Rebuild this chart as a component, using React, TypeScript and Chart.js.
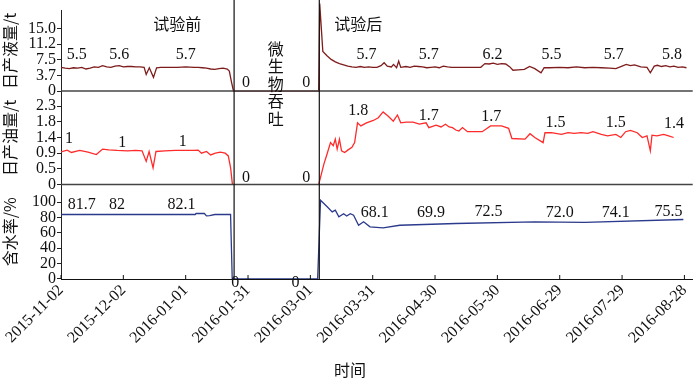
import React, { useEffect, useRef } from 'react';
import { Chart, registerables } from 'chart.js';
Chart.register(...registerables);

const SERIF = "'Liberation Serif', 'Noto Sans CJK SC', serif";
const CJK = "'Noto Sans CJK SC', 'Liberation Serif', sans-serif";

// x axis: days since 2015-11-02
const tickDays = [0, 30, 60, 90, 120, 150, 180, 210, 240, 270, 300];
const dateLabels = ['2015-11-02', '2015-12-02', '2016-01-01', '2016-01-31', '2016-03-01', '2016-03-31', '2016-04-30', '2016-05-30', '2016-06-29', '2016-07-29', '2016-08-28'];
const dividerDays = [83.3, 124.3];

// 日产液量/t
const liquidDays = [0, 2, 4, 6, 8, 10, 12, 14, 16, 18, 20, 22, 24, 26, 28, 30, 32, 34, 36, 38, 40, 41, 42.5, 44.5, 46, 48, 52, 56, 60, 64, 66, 68, 70, 72, 74, 76, 78, 80, 81, 82, 83, 124, 124.5, 126, 128, 130, 132, 134, 136, 138, 140, 142, 144, 146, 148, 150, 152, 154, 155.5, 157, 159, 160, 161.5, 162.5, 163.5, 166, 168, 170, 172, 174, 176, 178, 180, 182, 184, 186, 188, 190, 196, 202, 204, 206, 208, 210, 212, 214, 216, 217.5, 220, 223, 225.5, 228, 231, 232.5, 235, 240, 244, 248, 252, 256, 260, 264, 267, 270, 272, 274, 276, 279, 282, 283.6, 285.5, 287, 289, 291, 293, 295, 297, 299, 301];
const liquidValues = [5.7, 5.5, 5.4, 5.6, 5.5, 5.7, 5.3, 5.5, 5.8, 5.7, 6.1, 5.8, 5.7, 6.0, 6.1, 5.8, 5.9, 5.9, 5.8, 5.8, 5.7, 4.0, 5.6, 3.3, 5.6, 5.7, 5.7, 5.7, 5.8, 5.7, 5.7, 5.6, 5.5, 5.3, 5.2, 5.4, 5.5, 5.3, 4.8, 2.3, 0, 0, 21, 9.5, 8.5, 7.6, 7.0, 6.6, 6.3, 6.0, 5.8, 5.7, 5.9, 5.7, 5.8, 5.7, 5.7, 6.1, 6.8, 6.0, 5.8, 6.4, 5.6, 7.2, 5.7, 5.9, 5.7, 6.0, 5.9, 5.8, 5.6, 5.7, 5.8, 5.6, 6.0, 5.8, 5.7, 5.7, 5.7, 5.7, 6.6, 6.5, 6.7, 6.4, 6.6, 6.5, 5.8, 5.0, 5.1, 5.2, 5.9, 5.4, 4.4, 5.6, 5.6, 5.7, 5.6, 5.8, 5.6, 5.7, 5.6, 5.5, 5.4, 6.0, 6.4, 6.1, 6.3, 5.8, 5.7, 4.4, 6.0, 6.2, 5.9, 6.1, 5.8, 6.0, 5.7, 5.8, 5.6];

// 日产油量/t
const oilDays = [0, 3, 5, 9, 13, 17, 20, 23, 27, 32, 36, 39, 41, 42.4, 44.3, 45.7, 50, 55, 60, 64, 66, 67.6, 70, 72, 74.3, 76.7, 79, 80.5, 81.6, 82.5, 124, 126.5, 128, 129.7, 131, 132, 132.9, 134, 135, 136.5, 138, 140, 141.3, 142.7, 144.3, 147, 150.3, 152.7, 155, 157.5, 159.9, 161.9, 163.5, 166.2, 169.4, 172.5, 175.7, 177, 180.5, 182.9, 185, 186.8, 188.4, 190, 191.5, 193.2, 195.6, 202.7, 206.7, 212, 215.4, 217, 223.3, 225.7, 228, 232, 232.9, 236, 240.8, 244, 247, 250.3, 253.5, 256, 260, 263, 267, 269.4, 271.7, 274, 277.3, 279.7, 282, 283.6, 284.4, 286.8, 290, 292.4, 294.8];
const oilValues = [0.96, 1.01, 0.94, 1.0, 0.95, 0.88, 1.04, 1.02, 1.0, 0.99, 1.0, 0.99, 0.68, 0.97, 0.49, 0.97, 0.99, 1.0, 1.0, 1.0, 1.01, 0.92, 0.97, 0.87, 0.92, 0.95, 0.92, 0.84, 0.5, 0, 0, 0.6, 0.89, 1.23, 1.14, 1.33, 1.04, 1.33, 0.99, 0.94, 1.01, 1.09, 1.23, 1.81, 1.72, 1.81, 1.88, 1.96, 2.13, 2.0, 1.86, 2.04, 1.81, 1.83, 1.83, 1.77, 1.81, 1.67, 1.74, 1.69, 1.77, 1.69, 1.67, 1.6, 1.57, 1.67, 1.55, 1.55, 1.72, 1.72, 1.65, 1.35, 1.33, 1.49, 1.38, 1.23, 1.52, 1.52, 1.47, 1.52, 1.5, 1.52, 1.5, 1.55, 1.47, 1.43, 1.47, 1.38, 1.55, 1.59, 1.52, 1.38, 1.43, 0.99, 1.45, 1.43, 1.47, 1.43, 1.38];

// 含水率/%
const waterDays = [0, 20, 40, 64.6, 65, 69, 70, 71.5, 74, 80, 81.6, 82.4, 123.5, 124.9, 128.1, 130.5, 132, 133.7, 136, 137.5, 139.2, 140.8, 143.2, 145.6, 148.7, 155, 163, 190, 228, 252, 299.5];
const waterValues = [84, 84, 84, 84, 85.3, 85.3, 82.2, 82.5, 84, 84, 84, 0, 0, 102.6, 94, 87.4, 89.6, 81, 85, 82, 85, 83, 70, 74.5, 68, 66.7, 70, 72.3, 74.4, 73.8, 77.5];

// y ticks
const liquidTickValues = [0, 3.75, 7.5, 11.25, 15];
const liquidTickLabels = ['0', '3.7', '7.5', '11.2', '15.0'];
const oilTickValues = [0, 0.46, 0.92, 1.38, 1.84, 2.3];
const oilTickLabels = ['0', '0.5', '0.9', '1.4', '1.8', '2.3'];
const waterTickValues = [0, 20, 40, 60, 80, 100];
const waterTickLabels = ['0', '20', '40', '60', '80', '100'];

// value notes (text, day, value)
const liquidNoteTexts = ['5.5', '5.6', '5.7', '0', '0', '5.7', '5.7', '6.2', '5.5', '5.7', '5.8'];
const liquidNoteDays = [7.6, 28, 60, 89, 118, 147, 177, 207.6, 236, 266, 294];
const liquidNoteValues = [8.8, 8.8, 8.8, 2.1, 2.1, 8.8, 8.8, 8.8, 8.8, 8.8, 8.8];
const oilNoteTexts = ['1', '1', '1', '0', '0', '1.8', '1.7', '1.7', '1.5', '1.5', '1.4'];
const oilNoteDays = [3.8, 29.5, 58.6, 89, 118, 143, 177, 207, 238, 267, 295];
const oilNoteValues = [1.34, 1.22, 1.25, 0.2, 0.2, 2.15, 2.01, 1.98, 1.8, 1.8, 1.78];
const waterNoteTexts = ['81.7', '82', '82.1', '0', '0', '68.1', '69.9', '72.5', '72.0', '74.1', '75.5'];
const waterNoteDays = [10, 27, 58, 83.8, 112.9, 151, 178, 205.7, 240, 267, 292.4];
const waterNoteValues = [96, 96, 96, -5.2, -5.2, 85.7, 85.7, 87, 85.7, 85.7, 87];

const phaseTexts = ['试验前', '试验后'];
const phaseDays = [56, 143];
const phaseValue = 16.2;
const treatText = '微生物吞吐';
const treatDay = 103.3;
const treatValue = 10.2;

function pts(days: number[], vals: number[]) {
  return days.map((d, i) => ({ x: d, y: vals[i] }));
}

function yAxis(title: string, max: number, weight: number, order: number, values: number[], labels: string[]) {
  return {
    type: 'linear',
    position: 'left',
    stack: 'panels',
    stackWeight: weight,
    weight: order,
    min: 0,
    max,
    afterBuildTicks: (s: any) => { s.ticks = values.map((v) => ({ value: v })); },
    afterFit: (s: any) => { s.width = 61; },
    ticks: {
      autoSkip: false,
      callback: (_v: any, i: number) => labels[i],
      font: { family: SERIF, size: 16 },
      color: '#111',
      padding: 1,
    },
    grid: { drawOnChartArea: false, drawTicks: true, tickLength: 4, color: '#222' },
    border: { display: true, color: '#222', width: 1 },
    title: { display: true, text: title, font: { family: CJK, size: 16 }, color: '#111', padding: 0 },
  };
}

const panelsPlugin = {
  id: 'panels',
  afterDatasetsDraw(chart: any) {
    const ctx = chart.ctx;
    const { left, right, bottom } = chart.chartArea;
    const x = chart.scales.x;
    const y1 = chart.scales.y1;
    const y2 = chart.scales.y2;
    const y3 = chart.scales.y3;
    ctx.save();
    // panel separators
    ctx.strokeStyle = '#444';
    ctx.lineWidth = 1.5;
    for (const s of [y1, y2]) {
      ctx.beginPath();
      ctx.moveTo(left, s.bottom);
      ctx.lineTo(right, s.bottom);
      ctx.stroke();
    }
    // dividers
    ctx.strokeStyle = '#111';
    ctx.lineWidth = 1.2;
    for (const d of dividerDays) {
      const px = x.getPixelForValue(d);
      ctx.beginPath();
      ctx.moveTo(px, 0);
      ctx.lineTo(px, bottom);
      ctx.stroke();
    }
    // inward x ticks
    ctx.lineWidth = 1;
    for (const d of tickDays) {
      const px = x.getPixelForValue(d);
      ctx.beginPath();
      ctx.moveTo(px, bottom);
      ctx.lineTo(px, bottom - 4);
      ctx.stroke();
    }
    // notes
    ctx.fillStyle = '#111';
    ctx.textAlign = 'center';
    ctx.textBaseline = 'middle';
    ctx.font = `16px ${SERIF}`;
    const notes: [any, string[], number[], number[]][] = [
      [y1, liquidNoteTexts, liquidNoteDays, liquidNoteValues],
      [y2, oilNoteTexts, oilNoteDays, oilNoteValues],
      [y3, waterNoteTexts, waterNoteDays, waterNoteValues],
    ];
    for (const [s, texts, days, vals] of notes) {
      texts.forEach((t, i) => ctx.fillText(t, x.getPixelForValue(days[i]), s.getPixelForValue(vals[i])));
    }
    ctx.font = `16px ${CJK}`;
    phaseTexts.forEach((t, i) => ctx.fillText(t, x.getPixelForValue(phaseDays[i]), y1.getPixelForValue(phaseValue)));
    const tx = x.getPixelForValue(treatDay);
    const ty = y1.getPixelForValue(treatValue);
    Array.from(treatText).forEach((ch, i) => ctx.fillText(ch, tx, ty + i * 17.5));
    // x title
    ctx.fillText('时间', chart.width / 2, 370);
    ctx.restore();
  },
};

export default function App() {
  const ref = useRef<HTMLCanvasElement>(null);
  useEffect(() => {
    if (!ref.current) return;
    const chart = new Chart(ref.current, {
      type: 'line',
      data: {
        datasets: [
          { label: '日产液量', data: pts(liquidDays, liquidValues), yAxisID: 'y1', borderColor: '#7e1c1c', borderWidth: 1.3, pointRadius: 0, tension: 0, clip: false },
          { label: '日产油量', data: pts(oilDays, oilValues), yAxisID: 'y2', borderColor: '#ff2a2a', borderWidth: 1.3, pointRadius: 0, tension: 0 },
          { label: '含水率', data: pts(waterDays, waterValues), yAxisID: 'y3', borderColor: '#2b3a8c', borderWidth: 1.3, pointRadius: 0, tension: 0 },
        ],
      },
      options: {
        animation: false,
        responsive: false,
        parsing: true,
        layout: { padding: { top: 9, right: 1, left: 0, bottom: 0 } },
        plugins: { legend: { display: false }, tooltip: { enabled: false } },
        scales: {
          y1: yAxis('日产液量/t', 19.3, 81, 3, liquidTickValues, liquidTickLabels),
          y2: yAxis('日产油量/t', 2.74, 94, 2, oilTickValues, oilTickLabels),
          y3: yAxis('含水率/%', 123, 95, 1, waterTickValues, waterTickLabels),
          x: {
            type: 'linear',
            position: 'bottom',
            min: 0,
            max: 304,
            afterBuildTicks: (s: any) => { s.ticks = tickDays.map((v) => ({ value: v })); },
            afterFit: (s: any) => { s.height = 105; },
            ticks: {
              autoSkip: false,
              minRotation: 45,
              maxRotation: 45,
              callback: (_v: any, i: number) => dateLabels[i],
              font: { family: SERIF, size: 16 },
              color: '#111',
              padding: 2,
            },
            grid: { drawOnChartArea: false, drawTicks: false },
            border: { display: true, color: '#111', width: 1 },
          },
        },
      } as any,
      plugins: [panelsPlugin],
    });
    return () => chart.destroy();
  }, []);
  return (
    <div style={{ position: 'absolute', left: 0, top: 0, width: 700, height: 384, background: '#fff' }}>
      <canvas ref={ref} width={700} height={384} />
    </div>
  );
}
